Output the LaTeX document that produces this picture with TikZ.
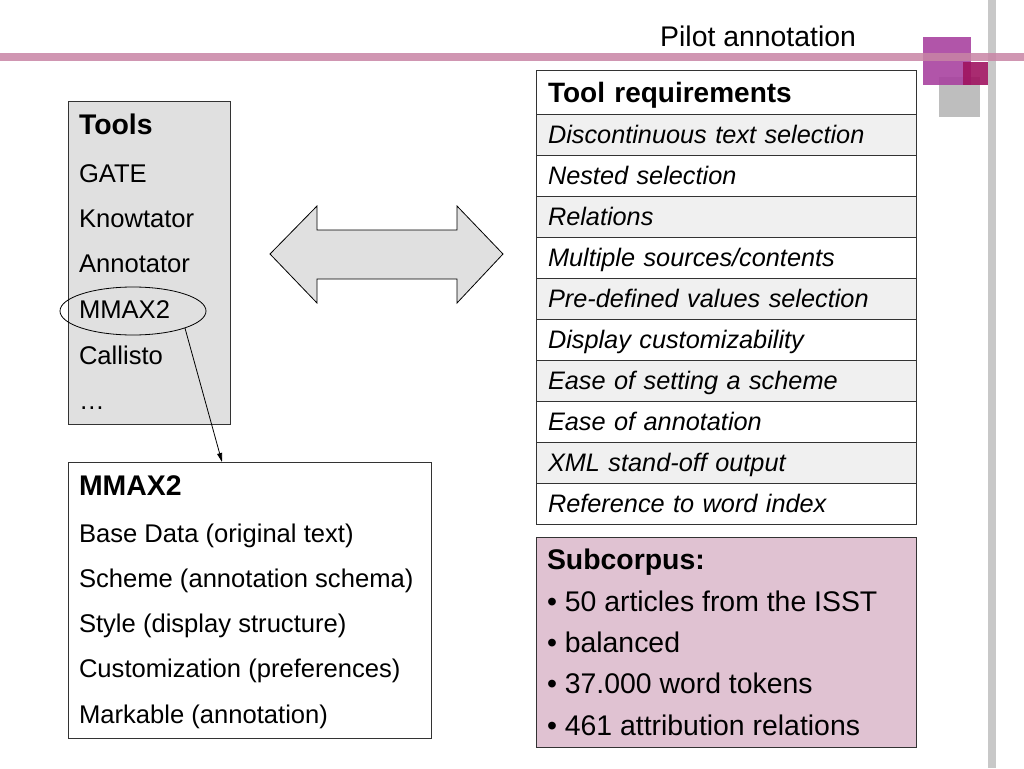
\documentclass[tikz,border=0pt]{standalone}
\usepackage{fontspec}
\setmainfont{Liberation Sans}
\usetikzlibrary{arrows.meta, positioning, shapes.geometric}
\definecolor{linepink}{RGB}{200,132,165}
\definecolor{sqmagenta}{RGB}{168,66,160}
\definecolor{sqred}{RGB}{160,20,96}
\definecolor{sqgray}{RGB}{190,190,190}
\definecolor{bargray}{RGB}{200,200,200}
\definecolor{boxgray}{RGB}{224,224,224}
\definecolor{rowgray}{RGB}{240,240,240}
\definecolor{subpink}{RGB}{224,194,210}

\begin{document}
\begin{tikzpicture}[
        x=1pt, y=-1pt,
        >={Triangle[length=9pt,width=5pt]},
        every node/.style={inner sep=0pt, outer sep=0pt, font=\fontsize{25.6}{30}\selectfont},
        big/.style={font=\fontsize{28.4}{34}\selectfont},
        bold/.style={font=\fontsize{28.4}{34}\selectfont\bfseries},
        item/.style={anchor=base west},
        frame/.style={draw=black!80, line width=0.9pt, anchor=north west},
        row/.style={frame, minimum width=380, minimum height=41, inner xsep=12pt,
            text width=356pt, align=left, text height=18.2pt, text depth=0pt,
            font=\fontsize{25.3}{30}\selectfont\itshape}
    ]
    \useasboundingbox (0,0) rectangle (1024,768);

    % slide decoration
    \fill[bargray] (988,0) rectangle (996,768);
    \fill[sqgray] (939,77) rectangle (980,117);
    \fill[sqmagenta, opacity=0.9] (923,37) rectangle (971,85);
    \fill[sqred, opacity=0.9] (963,62) rectangle (988,85);
    \fill[linepink, opacity=0.85] (0,53) rectangle (1024,61);
    \node[anchor=base east, big] (title) at (856,47) {Pilot annotation};

    % tools
    \node[frame, fill=boxgray, minimum width=162, minimum height=323] (tools) at (68,101) {};
    \node[item, bold] (tt) at (79,134) {Tools};
    \node[item] (t1) at (79,182) {GATE};
    \node[item] (t2) at (79,227) {Knowtator};
    \node[item] (t3) at (79,272) {Annotator};
    \node[item] (t4) at (79,318) {MMAX2};
    \node[item] (t5) at (79,364) {Callisto};
    \node[item] (t6) at (79,409) {…};
    \node[draw, ellipse, line width=0.8pt, minimum width=146, minimum height=48] (sel) at (133,311) {};

    % mmax2
    \node[frame, minimum width=363, minimum height=276] (mbox) at (68,462) {};
    \node[item, bold] (mm) at (79,495) {MMAX2};
    \node[item] (m1) at (79,542) {Base Data (original text)};
    \node[item] (m2) at (79,587) {Scheme (annotation schema)};
    \node[item] (m3) at (79,632) {Style (display structure)};
    \node[item] (m4) at (79,677) {Customization (preferences)};
    \node[item] (m5) at (79,723) {Markable (annotation)};
    \coordinate (mtop) at (222,462);
    \draw[->, line width=0.8pt] (sel.-18) -- (mtop);

    % double arrow
    \draw[fill=boxgray, line width=0.8pt] (270,254) -- (317,206) -- (317,230) -- (457,230)
        -- (457,206) -- (503,254) -- (457,303) -- (457,279) -- (317,279) -- (317,303) -- cycle;

    % requirements
    \node[row, minimum height=44, text height=20.1pt, fill=white,
        font=\fontsize{28}{34}\selectfont\bfseries] (req) at (536,70) {Tool requirements};
    \node[row, fill=rowgray, below=0pt of req] (r1) {Discontinuous text selection};
    \node[row, fill=white, below=0pt of r1] (r2) {Nested selection};
    \node[row, fill=rowgray, below=0pt of r2] (r3) {Relations};
    \node[row, fill=white, below=0pt of r3] (r4) {Multiple sources/contents};
    \node[row, fill=rowgray, below=0pt of r4] (r5) {Pre-defined values selection};
    \node[row, fill=white, below=0pt of r5] (r6) {Display customizability};
    \node[row, fill=rowgray, below=0pt of r6] (r7) {Ease of setting a scheme};
    \node[row, fill=white, below=0pt of r7] (r8) {Ease of annotation};
    \node[row, fill=rowgray, below=0pt of r8] (r9) {XML stand-off output};
    \node[row, fill=white, below=0pt of r9] (r10) {Reference to word index};

    % subcorpus
    \node[frame, fill=subpink, minimum width=380, minimum height=210] (sub) at (536,537) {};
    \node[item, bold] (sc) at (547,569) {Subcorpus:};
    \node[item, big] (s1) at (547,611) {• 50 articles from the ISST};
    \node[item, big] (s2) at (547,652) {• balanced};
    \node[item, big] (s3) at (547,693) {• 37.000 word tokens};
    \node[item, big] (s4) at (547,735) {• 461 attribution relations};
\end{tikzpicture}
\end{document}
